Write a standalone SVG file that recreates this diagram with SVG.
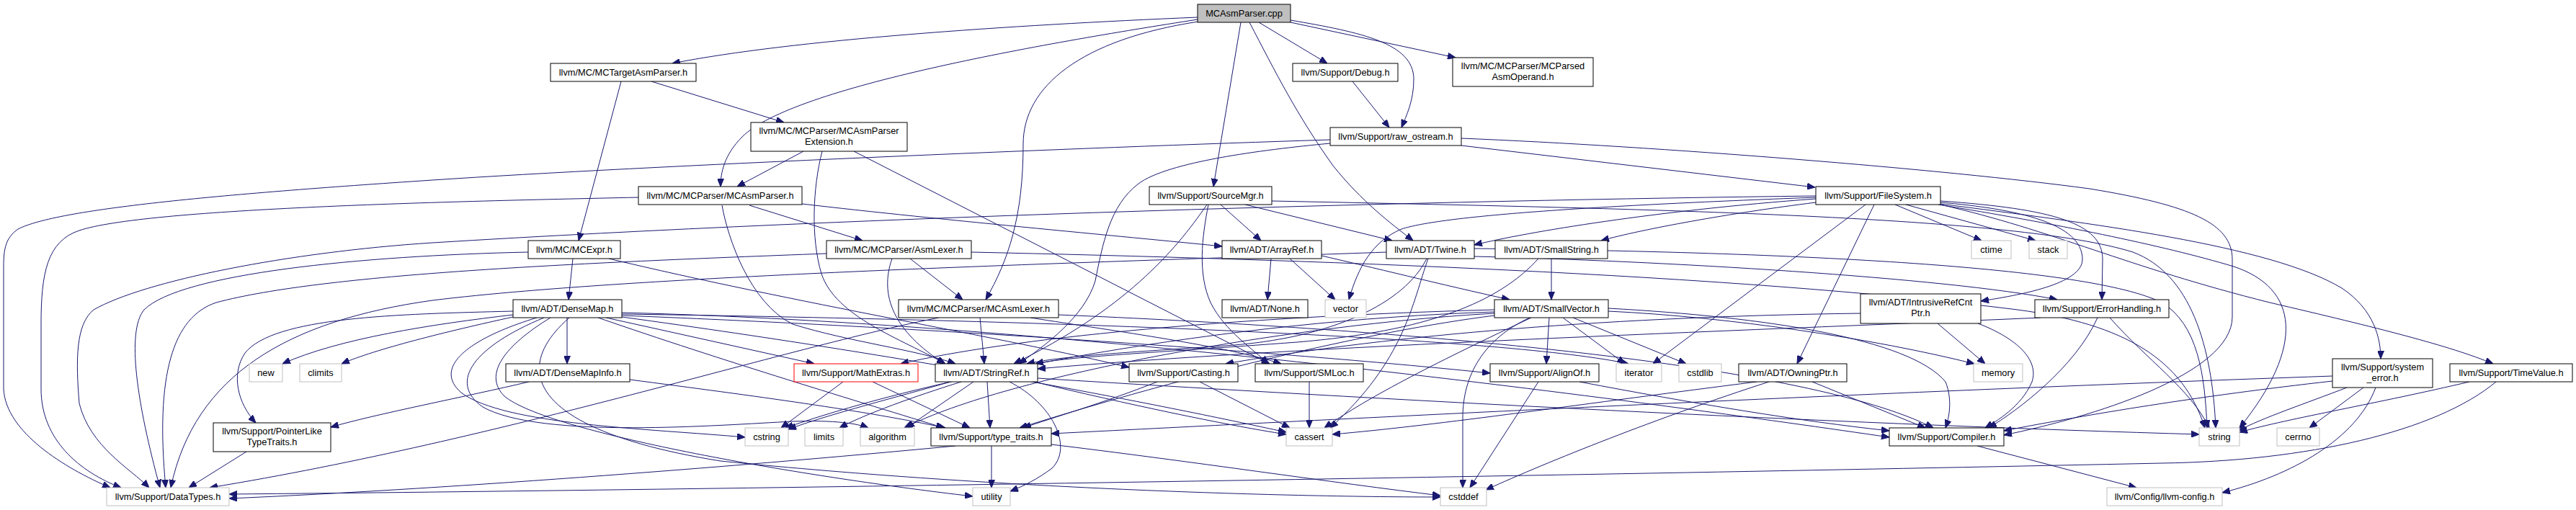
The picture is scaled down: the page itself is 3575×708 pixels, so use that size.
<svg xmlns="http://www.w3.org/2000/svg" width="3575" height="708" viewBox="0 0 3575 708">
<defs>
<marker id="a" markerWidth="11" markerHeight="9" refX="11" refY="4.5" orient="auto" markerUnits="userSpaceOnUse"><path d="M0,0 L11,4.5 L0,9 z" fill="#191970" stroke="#191970" stroke-width="1"/></marker>
<style>
.n rect{fill:#fff;stroke:#000;stroke-width:1}
.s rect{fill:#fff;stroke:#bfbfbf;stroke-width:1}
.r rect{fill:#bfbfbf;stroke:#000;stroke-width:1}
.t rect{fill:#fff;stroke:#ff0000;stroke-width:1}
text{font-family:"Liberation Sans",Arial,sans-serif;font-size:12.8px;text-anchor:middle;fill:#000}
#edges path{fill:none;stroke:#191970;stroke-width:1;marker-end:url(#a)}
</style>
</defs>
<rect width="3575" height="708" fill="#fff"/>
<g id="edges">
<path d="M1662,24 C1400,35 1100,55 933,88"/>
<path d="M1662,27 C1450,60 1100,120 1030,190 C1005,215 1000,240 1000,259"/>
<path d="M1663,30 C1500,55 1420,120 1420,200 C1420,300 1400,360 1368,416"/>
<path d="M1722,31 L1684,259"/>
<path d="M1734,31 C1770,100 1800,160 1850,230 C1890,280 1930,310 1961,334"/>
<path d="M1747,31 L1842,88"/>
<path d="M1791,28 C1890,45 1962,60 1962,110 C1962,140 1952,160 1945,177"/>
<path d="M1791,31 L2020,80"/>
<path d="M904,113 L1088,170"/>
<path d="M862,113 L803,334"/>
<path d="M1115,210 L1023,259"/>
<path d="M1141,210 C1128,260 1125,330 1140,380 C1160,440 1250,470 1312,505"/>
<path d="M1185,210 L1762,505"/>
<path d="M886,274 C600,280 200,290 110,320 C65,335 57,380 57,450 L57,540 C57,610 110,655 168,677"/>
<path d="M1040,285 L1197,334"/>
<path d="M1113,283 C1300,305 1600,332 1696,342"/>
<path d="M1002,285 C1010,330 1040,420 1100,450 C1180,475 1270,485 1326,505"/>
<path d="M1877,113 L1928,177"/>
<path d="M1846,194 C1500,205 900,230 600,250 C300,270 80,290 25,318 C8,330 5,345 5,370 L5,540 C8,600 90,650 153,677"/>
<path d="M1846,199 C1750,208 1620,225 1580,255 C1540,285 1530,340 1520,390 C1505,440 1450,480 1414,505"/>
<path d="M2028,202 L2519,260"/>
<path d="M2028,192 C2300,203 2700,235 2900,262 C3040,285 3098,310 3098,360 L3098,440 C3098,520 2900,580 2781,604"/>
<path d="M1694,284 L1750,334"/>
<path d="M1675,284 C1630,350 1560,430 1407,505"/>
<path d="M1677,284 C1668,330 1662,380 1680,420 C1700,460 1740,485 1760,505"/>
<path d="M1728,284 L1932,334"/>
<path d="M1765,279 C2300,290 2800,300 2960,350 C3040,380 3070,480 3075,594"/>
<path d="M2520,276 C2300,292 2120,322 2046,340"/>
<path d="M2520,281 C2400,296 2280,318 2222,334"/>
<path d="M2520,272 C2000,278 1200,300 600,337 C400,350 200,390 130,430 C105,450 105,500 110,560 C125,620 180,650 207,677"/>
<path d="M2520,274 C2200,286 2000,300 1945,318 C1905,335 1885,370 1872,416"/>
<path d="M2601,284 L2494,505"/>
<path d="M2589,284 L2294,505"/>
<path d="M2630,284 L2750,334"/>
<path d="M2645,284 L2825,334"/>
<path d="M2693,281 C2800,290 2890,310 2890,360 C2890,395 2800,410 2749,418"/>
<path d="M2693,279 C2850,290 2918,310 2918,360 L2917,416"/>
<path d="M2693,283 C2900,310 3150,340 3250,400 C3295,430 3304,470 3304,498"/>
<path d="M2693,284 C2850,320 2950,370 3150,420 C3300,455 3400,480 3460,505"/>
<path d="M2690,284 C2850,310 3000,340 3100,370 C3190,400 3200,480 3108,594"/>
<path d="M795,359 L789,416"/>
<path d="M845,359 C1100,420 1400,470 1567,510"/>
<path d="M733,350 C500,355 250,380 200,430 C175,460 190,560 222,677"/>
<path d="M1263,359 L1336,416"/>
<path d="M1238,359 C1220,410 1240,460 1311,505"/>
<path d="M1147,352 C800,365 450,380 300,420 C240,440 215,520 230,677"/>
<path d="M1348,350 C1800,360 2400,380 2800,430 C2950,450 3030,500 3060,594"/>
<path d="M1764,359 L1759,416"/>
<path d="M1834,355 C1900,370 2000,395 2095,416"/>
<path d="M1790,359 L1853,416"/>
<path d="M1980,359 C1950,420 1850,470 1700,480 C1550,490 1470,495 1425,505"/>
<path d="M1924,350 C1600,362 900,380 600,417 C400,445 270,520 237,677"/>
<path d="M2046,356 C2300,362 2700,385 2855,416"/>
<path d="M1982,359 C1960,420 1950,500 1846,594"/>
<path d="M2046,345 C2500,350 2900,370 3000,420 C3050,450 3060,520 3063,594"/>
<path d="M2153,359 L2153,416"/>
<path d="M2135,359 C2080,420 1980,460 1800,475 C1600,490 1480,495 1437,505"/>
<path d="M787,441 L787,505"/>
<path d="M712,432 C550,436 380,440 340,490 C320,520 330,560 355,587"/>
<path d="M712,437 C600,450 470,470 392,505"/>
<path d="M712,440 C620,460 520,485 474,505"/>
<path d="M745,441 C650,470 600,510 640,545 C700,590 900,595 1034,607"/>
<path d="M755,441 C660,480 620,530 670,565 C750,610 1000,590 1100,585 C1160,583 1190,588 1205,594"/>
<path d="M764,441 C700,480 670,520 700,550 C760,600 1100,660 1350,689"/>
<path d="M863,438 C1300,455 1800,490 2068,518"/>
<path d="M863,434 C1500,450 2300,560 2622,607"/>
<path d="M841,441 L1130,505"/>
<path d="M830,441 C1000,500 1200,560 1310,594"/>
<path d="M863,440 C1300,500 1600,560 1785,600"/>
<path d="M790,441 C700,520 750,600 1000,640 C1400,680 1800,690 1999,690"/>
<path d="M863,436 C1500,445 2100,470 2260,505"/>
<path d="M1360,441 L1366,505"/>
<path d="M1430,441 C1550,460 1700,480 1778,505"/>
<path d="M1303,441 C1100,480 700,610 291,677"/>
<path d="M1469,437 C1900,455 2500,500 2683,594"/>
<path d="M2150,441 L2146,505"/>
<path d="M2169,441 L2255,505"/>
<path d="M2183,441 L2340,505"/>
<path d="M2125,441 C2000,500 1900,550 1838,594"/>
<path d="M2123,441 C2060,470 2030,520 2030,580 L2030,677"/>
<path d="M2074,430 C1700,440 1400,470 1250,505"/>
<path d="M2074,438 C1900,460 1650,520 1415,594"/>
<path d="M2074,435 C1800,450 1400,520 1255,594"/>
<path d="M2074,433 C1700,445 1300,520 1090,594"/>
<path d="M2232,428 C2450,440 2650,470 2700,530 C2710,555 2705,580 2700,594"/>
<path d="M2232,432 C2400,440 2600,470 2740,505"/>
<path d="M2582,435 C2200,440 1900,470 1701,505"/>
<path d="M2689,449 L2755,505"/>
<path d="M2745,449 C2800,470 2830,500 2820,530 C2805,565 2770,585 2755,594"/>
<path d="M2832,441 C2400,460 1800,480 1440,512"/>
<path d="M2911,441 C2880,510 2800,570 2760,594"/>
<path d="M2928,441 C2980,500 3040,540 3066,594"/>
<path d="M2515,530 L2672,594"/>
<path d="M2438,530 C2200,560 2000,590 1849,603"/>
<path d="M2455,530 C2300,580 2150,640 2062,680"/>
<path d="M3257,538 C3200,560 3140,580 3106,598"/>
<path d="M3280,538 L3205,594"/>
<path d="M3297,538 C3270,610 3180,660 3084,684"/>
<path d="M3237,529 C3050,550 2900,575 2781,598"/>
<path d="M3237,522 C2500,548 1800,585 1459,602"/>
<path d="M3427,530 C3300,560 3180,580 3108,600"/>
<path d="M3464,530 C3380,600 3200,640 3000,643 C2200,660 1000,680 318,686"/>
<path d="M342,627 L262,677"/>
<path d="M1326,619 C1000,650 600,680 318,692"/>
<path d="M1376,619 L1376,677"/>
<path d="M1459,617 C1650,640 1850,670 1999,688"/>
<path d="M734,530 C650,550 520,575 459,593"/>
<path d="M874,527 C1050,550 1200,570 1312,594"/>
<path d="M1170,530 L1084,594"/>
<path d="M1211,530 L1346,594"/>
<path d="M1370,530 L1374,594"/>
<path d="M1351,530 L1258,594"/>
<path d="M1319,530 C1250,550 1150,575 1094,596"/>
<path d="M1334,530 C1270,550 1200,575 1165,594"/>
<path d="M1435,530 C1560,560 1700,590 1785,603"/>
<path d="M1401,530 C1460,560 1490,620 1460,650 C1440,665 1420,675 1402,682"/>
<path d="M1440,525 C2000,560 2600,590 3052,603"/>
<path d="M1606,530 C1530,560 1460,580 1420,594"/>
<path d="M1665,530 L1790,594"/>
<path d="M1817,530 L1817,594"/>
<path d="M2135,530 L2040,677"/>
<path d="M2192,530 C2350,560 2500,585 2622,598"/>
<path d="M2744,619 L2965,677"/>
</g>
<g id="n_cpp" class="r"><rect x="1662" y="6" width="129" height="25"/><text x="1726.5" y="23">MCAsmParser.cpp</text></g>
<g id="n_mctargetasmparser" class="n"><rect x="764" y="88" width="202" height="25"/><text x="865" y="105">llvm/MC/MCTargetAsmParser.h</text></g>
<g id="n_debug" class="n"><rect x="1794" y="88" width="146" height="25"/><text x="1867" y="105">llvm/Support/Debug.h</text></g>
<g id="n_mcparsedasmoperand" class="n"><rect x="2016" y="80" width="195" height="40"/><text x="2113.5" y="96">llvm/MC/MCParser/MCParsed</text><text x="2113.5" y="111">AsmOperand.h</text></g>
<g id="n_extension" class="n"><rect x="1042" y="170" width="217" height="40"/><text x="1150.5" y="186">llvm/MC/MCParser/MCAsmParser</text><text x="1150.5" y="201">Extension.h</text></g>
<g id="n_raw_ostream" class="n"><rect x="1846" y="177" width="182" height="25"/><text x="1937" y="194">llvm/Support/raw_ostream.h</text></g>
<g id="n_mcasmparser" class="n"><rect x="886" y="259" width="227" height="25"/><text x="999.5" y="276">llvm/MC/MCParser/MCAsmParser.h</text></g>
<g id="n_sourcemgr" class="n"><rect x="1595" y="259" width="170" height="25"/><text x="1680" y="276">llvm/Support/SourceMgr.h</text></g>
<g id="n_filesystem" class="n"><rect x="2520" y="259" width="173" height="25"/><text x="2606.5" y="276">llvm/Support/FileSystem.h</text></g>
<g id="n_mcexpr" class="n"><rect x="733" y="334" width="128" height="25"/><text x="797" y="351">llvm/MC/MCExpr.h</text></g>
<g id="n_asmlexer" class="n"><rect x="1147" y="334" width="201" height="25"/><text x="1247.5" y="351">llvm/MC/MCParser/AsmLexer.h</text></g>
<g id="n_arrayref" class="n"><rect x="1696" y="334" width="138" height="25"/><text x="1765" y="351">llvm/ADT/ArrayRef.h</text></g>
<g id="n_twine" class="n"><rect x="1924" y="334" width="122" height="25"/><text x="1985" y="351">llvm/ADT/Twine.h</text></g>
<g id="n_smallstring" class="n"><rect x="2075" y="334" width="156" height="25"/><text x="2153" y="351">llvm/ADT/SmallString.h</text></g>
<g id="n_ctime" class="s"><rect x="2736" y="334" width="55" height="25"/><text x="2763.5" y="351">ctime</text></g>
<g id="n_stack" class="s"><rect x="2816" y="334" width="53" height="25"/><text x="2842.5" y="351">stack</text></g>
<g id="n_densemap" class="n"><rect x="712" y="416" width="151" height="25"/><text x="787.5" y="433">llvm/ADT/DenseMap.h</text></g>
<g id="n_mcasmlexer" class="n"><rect x="1247" y="416" width="222" height="25"/><text x="1358" y="433">llvm/MC/MCParser/MCAsmLexer.h</text></g>
<g id="n_none" class="n"><rect x="1696" y="416" width="119" height="25"/><text x="1755.5" y="433">llvm/ADT/None.h</text></g>
<g id="n_vector" class="s"><rect x="1839" y="416" width="57" height="25"/><text x="1867.5" y="433">vector</text></g>
<g id="n_smallvector" class="n"><rect x="2074" y="416" width="158" height="25"/><text x="2153" y="433">llvm/ADT/SmallVector.h</text></g>
<g id="n_intrusiverefcntptr" class="n"><rect x="2582" y="408" width="167" height="41"/><text x="2665.5" y="424">llvm/ADT/IntrusiveRefCnt</text><text x="2665.5" y="439">Ptr.h</text></g>
<g id="n_errorhandling" class="n"><rect x="2824" y="416" width="186" height="25"/><text x="2917" y="433">llvm/Support/ErrorHandling.h</text></g>
<g id="n_new" class="s"><rect x="346" y="505" width="46" height="25"/><text x="369" y="522">new</text></g>
<g id="n_climits" class="s"><rect x="416" y="505" width="58" height="25"/><text x="445" y="522">climits</text></g>
<g id="n_densemapinfo" class="n"><rect x="702" y="505" width="172" height="25"/><text x="788" y="522">llvm/ADT/DenseMapInfo.h</text></g>
<g id="n_mathextras" class="t"><rect x="1102" y="505" width="172" height="25"/><text x="1188" y="522">llvm/Support/MathExtras.h</text></g>
<g id="n_stringref" class="n"><rect x="1298" y="505" width="142" height="25"/><text x="1369" y="522">llvm/ADT/StringRef.h</text></g>
<g id="n_casting" class="n"><rect x="1567" y="505" width="151" height="25"/><text x="1642.5" y="522">llvm/Support/Casting.h</text></g>
<g id="n_smloc" class="n"><rect x="1742" y="505" width="150" height="25"/><text x="1817" y="522">llvm/Support/SMLoc.h</text></g>
<g id="n_alignof" class="n"><rect x="2068" y="505" width="151" height="25"/><text x="2143.5" y="522">llvm/Support/AlignOf.h</text></g>
<g id="n_iterator" class="s"><rect x="2243" y="505" width="63" height="25"/><text x="2274.5" y="522">iterator</text></g>
<g id="n_cstdlib" class="s"><rect x="2330" y="505" width="59" height="25"/><text x="2359.5" y="522">cstdlib</text></g>
<g id="n_owningptr" class="n"><rect x="2413" y="505" width="150" height="25"/><text x="2488" y="522">llvm/ADT/OwningPtr.h</text></g>
<g id="n_memory" class="s"><rect x="2739" y="505" width="68" height="25"/><text x="2773" y="522">memory</text></g>
<g id="n_system_error" class="n"><rect x="3237" y="498" width="139" height="40"/><text x="3306.5" y="514">llvm/Support/system</text><text x="3306.5" y="529">_error.h</text></g>
<g id="n_timevalue" class="n"><rect x="3400" y="505" width="170" height="25"/><text x="3485" y="522">llvm/Support/TimeValue.h</text></g>
<g id="n_pointerliketypetraits" class="n"><rect x="296" y="587" width="163" height="40"/><text x="377.5" y="603">llvm/Support/PointerLike</text><text x="377.5" y="618">TypeTraits.h</text></g>
<g id="n_cstring" class="s"><rect x="1034" y="594" width="60" height="25"/><text x="1064" y="611">cstring</text></g>
<g id="n_limits" class="s"><rect x="1117" y="594" width="53" height="25"/><text x="1143.5" y="611">limits</text></g>
<g id="n_algorithm" class="s"><rect x="1194" y="594" width="75" height="25"/><text x="1231.5" y="611">algorithm</text></g>
<g id="n_type_traits" class="n"><rect x="1292" y="594" width="167" height="25"/><text x="1375.5" y="611">llvm/Support/type_traits.h</text></g>
<g id="n_cassert" class="s"><rect x="1785" y="594" width="64" height="25"/><text x="1817" y="611">cassert</text></g>
<g id="n_compiler" class="n"><rect x="2622" y="594" width="159" height="25"/><text x="2701.5" y="611">llvm/Support/Compiler.h</text></g>
<g id="n_string" class="s"><rect x="3052" y="594" width="56" height="25"/><text x="3080" y="611">string</text></g>
<g id="n_cerrno" class="s"><rect x="3160" y="594" width="59" height="25"/><text x="3189.5" y="611">cerrno</text></g>
<g id="n_datatypes" class="s"><rect x="148" y="677" width="170" height="25"/><text x="233" y="694">llvm/Support/DataTypes.h</text></g>
<g id="n_utility" class="s"><rect x="1350" y="677" width="52" height="25"/><text x="1376" y="694">utility</text></g>
<g id="n_cstddef" class="s"><rect x="1999" y="677" width="64" height="25"/><text x="2031" y="694">cstddef</text></g>
<g id="n_llvm_config" class="s"><rect x="2924" y="677" width="160" height="25"/><text x="3004" y="694">llvm/Config/llvm-config.h</text></g>
</svg>
